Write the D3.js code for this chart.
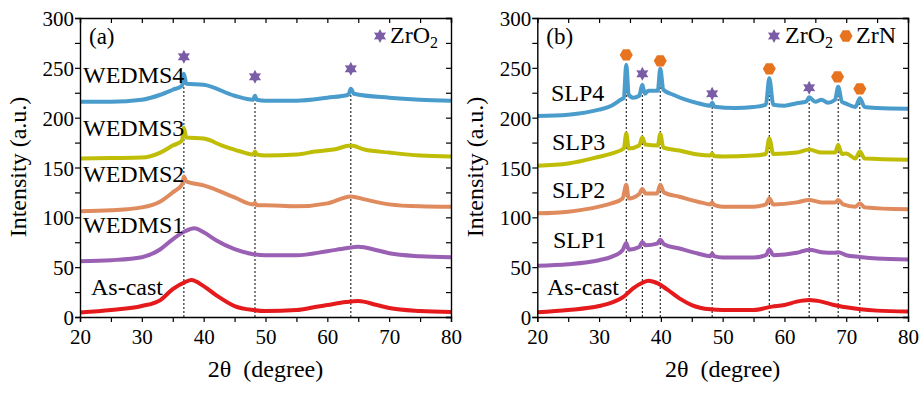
<!DOCTYPE html>
<html>
<head>
<meta charset="utf-8">
<script src="https://cdn.jsdelivr.net/npm/d3@7"></script>
<style>
  body { margin: 0; background: #fff; }
  svg text { font-family: "Liberation Serif", "Times New Roman", serif !important; fill: #000; }
</style>
</head>
<body>
<svg width="921" height="393"></svg>
<script>
// ---- data: [2theta, intensity] ----
var xTicks = [20, 30, 40, 50, 60, 70, 80];
var yTicks = [0, 50, 100, 150, 200, 250, 300];

var asCastA = [[20,4.5],[25,7],[30,11],[33,17],[35,28],[37,35],[38,37],[40,31],[42,22],[45,11],[48,7],[50,6],[55,7],[58,10],[60,12],[63,15],[65,16],[68,12],[70,9],[75,6],[80,5]];
var wedms1 = [[20,56],[25,57],[30,60],[33,68],[35,78],[37,86],[38.5,89],[40,85],[42,77],[45,68],[48,63],[50,62],[55,62],[60,66],[63,69],[65,70.5],[68,67],[70,64],[75,61],[80,60]];
var wedms2 = [[20,106],[25,107],[30,110],[33,116],[35,125],[36.5,133],[36.8,141],[37.2,136],[40,132],[45,120],[48,113],[48.3,114.5],[48.6,112],[50,112],[55,111],[60,114],[63.8,121],[66,118],[70,113],[75,111],[80,110.5]];
var wedms3 = [[20,159],[25,159.5],[30,160],[33,165],[35,172],[36.5,177],[36.8,190],[37.2,180],[40,179],[43,172],[46,166],[48,163],[48.3,166],[48.6,163],[50,162],[55,163],[58,166],[61,168],[63.8,172],[66,168],[70,165],[75,162],[80,161]];
var wedms4 = [[20,216],[25,216],[30,218],[33,223],[35,228],[36.5,232],[36.8,244],[37.2,234],[40,233],[45,222],[48,218],[48.3,222],[48.6,218],[50,217],[55,217],[60,220],[63.4,223],[63.8,229],[64.3,224],[70,220],[75,218],[80,217]];

var asCastB = [[20,4.7],[25,7],[30,11],[32,14.4],[34,20.4],[35.5,28.7],[37,34.4],[38,36.4],[39.5,33.7],[41,27.7],[43,18.7],[45,12],[48,7.7],[50,7],[55,7],[58,10.4],[60,12],[62,15.4],[64,17],[66,15.4],[68,12],[70,9.7],[75,6.4],[80,5.4]];
var slp1 = [[20,51.5],[25,53],[30,57],[32,60.3],[33.8,67],[34.4,74.3],[34.8,67.6],[36.5,70.3],[37,75.3],[37.5,72],[39.4,73.6],[39.9,77.6],[40.5,73],[43,68.7],[46,63.7],[48,61],[48.3,63.7],[48.6,61],[50,59.7],[55,59.7],[57,62],[57.55,67.6],[58.2,62],[62,64.4],[64,67.6],[66,65],[68.2,64.4],[68.7,65],[70,62],[72.2,60.3],[75,58.7],[80,57.7]];
var slp2 = [[20,104],[25,105.7],[30,110.7],[32,114],[33.8,119],[34.4,132.7],[34.8,119],[36.5,123.5],[37,128.5],[37.5,124],[39.4,124],[39.9,132.7],[40.5,125],[43,120.7],[46,115.7],[48,113],[48.3,115],[48.6,112.5],[50,110.7],[55,110.7],[57,113],[57.55,119],[58.2,113],[62,115],[64,117.4],[66,115],[68.2,115],[68.7,117.4],[69.5,113],[71.5,110.7],[72.2,114],[73,110],[80,108]];
var slp3 = [[20,151.8],[25,154],[30,160.8],[32,164],[34,169],[34.4,184],[34.8,169],[36.5,172],[37,180],[37.5,173],[39.5,172],[39.9,183.6],[40.4,170],[43,167],[46,163],[48,162],[48.3,164],[48.6,161.5],[50,161],[55,162],[57,163.6],[57.55,179],[58.2,163.6],[62,165],[64,168],[66,165],[68.2,165],[68.7,172.5],[69.3,163.6],[70,164],[71.5,159],[72.2,166],[73,159],[80,157.9]];
var slp4 = [[20,201.7],[25,203],[30,208],[32,212],[33.5,218],[34,220],[34.4,253],[34.8,223],[35.5,220],[36.5,222],[37,233],[37.4,224],[38,227],[39.5,227],[39.9,249],[40.4,228],[42,223],[44,218],[46,214.5],[48,212],[48.3,215],[48.7,211],[52,209.7],[55,210.7],[57,213],[57.55,239.5],[58.2,213],[60,212],[62,214.5],[63.5,216],[64,220.4],[65,216],[66,218],[67,215],[68.2,218],[68.7,231],[69.3,216],[70,214],[71.5,210.7],[72.2,219.4],[73,210.7],[75,209.7],[80,209]];

var seriesNamesA = ["As-cast", "WEDMS1", "WEDMS2", "WEDMS3", "WEDMS4"];
var seriesNamesB = ["As-cast", "SLP1", "SLP2", "SLP3", "SLP4"];
var seriesColors = ["#e41a1c", "#9a60b4", "#e08b5e", "#bfbd06", "#4a9ccc"];

// peak guide lines (2theta) and marker positions
var peaksA = [36.8, 48.3, 63.8];
var markersA = [[36.8, 261, "ZrO2"], [48.3, 241, "ZrO2"], [63.8, 249, "ZrO2"]];
var peaksB = [34.4, 37.0, 39.9, 48.3, 57.55, 64.0, 68.7, 72.2];
var markersB = [[34.4, 263, "ZrN"], [37.0, 244, "ZrO2"], [39.9, 257, "ZrN"], [48.3, 224, "ZrO2"],
                [57.55, 249, "ZrN"], [64.0, 230, "ZrO2"], [68.6, 241, "ZrN"], [72.2, 229, "ZrN"]];

var starColor = "#7b5ca6", hexColor = "#e8731e";

var svg = d3.select("svg");

function starPath(r) {
  var pts = [];
  for (var i = 0; i < 12; i++) {
    var a = -Math.PI / 2 + i * Math.PI / 6;
    var rr = i % 2 ? r * 0.55 : r;
    pts.push([rr * Math.cos(a), rr * Math.sin(a)]);
  }
  return "M" + pts.join("L") + "Z";
}
function hexPath(r) {
  var pts = [];
  for (var i = 0; i < 6; i++) {
    var a = i * Math.PI / 3;
    pts.push([r * Math.cos(a), r * Math.sin(a)]);
  }
  return "M" + pts.join("L") + "Z";
}
function drawMarker(g, x, y, kind) {
  g.append("path")
    .attr("transform", "translate(" + x + "," + y + ")")
    .attr("d", kind === "ZrN" ? hexPath(6.5) : starPath(7))
    .attr("fill", kind === "ZrN" ? hexColor : starColor);
}
function zrO2Text(g, x, y) {
  var t = g.append("text").attr("x", x).attr("y", y).style("font-size", "24px");
  t.append("tspan").text("ZrO");
  t.append("tspan").style("font-size", "16px").attr("dy", 5).text("2");
}

function drawPanel(cfg) {
  var x = d3.scaleLinear().domain([20, 80]).range([cfg.x0, cfg.x1]);
  var y = d3.scaleLinear().domain([0, 300]).range([317, 18]);
  var g = svg.append("g");

  // dotted guides up to the top curve
  var top = cfg.series[cfg.series.length - 1];
  var topLine = function(px) {
    for (var i = 1; i < top.length; i++) {
      if (top[i][0] >= px) {
        var a = top[i - 1], b = top[i];
        return a[1] + (b[1] - a[1]) * (px - a[0]) / (b[0] - a[0]);
      }
    }
    return top[top.length - 1][1];
  };
  g.selectAll(".guide").data(cfg.peaks).enter().append("line")
    .attr("x1", function(d) { return x(d); }).attr("x2", function(d) { return x(d); })
    .attr("y1", y(0)).attr("y2", function(d) { return y(topLine(d)); })
    .attr("stroke", "#000").attr("stroke-width", 1).attr("stroke-dasharray", "2,2");

  var line = d3.line().x(function(d) { return x(d[0]); }).y(function(d) { return y(d[1]); })
    .curve(d3.curveMonotoneX);
  cfg.series.forEach(function(s, i) {
    g.append("path").attr("d", line(s)).attr("fill", "none")
      .attr("stroke", seriesColors[i]).attr("stroke-width", 4)
      .attr("stroke-linejoin", "round");
  });

  // axes: ticks outward on bottom/left, inward mirrors on top/right
  var minorX = d3.range(20, 80.1, 5), minorY = d3.range(0, 300.1, 25);
  var bx = g.append("g").attr("transform", "translate(0,317)")
    .call(d3.axisBottom(x).tickValues(minorX).tickSize(5).tickFormat(function(d) { return xTicks.indexOf(d) >= 0 ? d : ""; }));
  bx.selectAll(".tick text").attr("y", 27).attr("dy", 0);
  g.append("g").attr("transform", "translate(0,18)")
    .call(d3.axisTop(x).tickValues(minorX).tickSize(-5).tickFormat(""));
  var ly = g.append("g").attr("transform", "translate(" + cfg.x0 + ",0)")
    .call(d3.axisLeft(y).tickValues(minorY).tickSize(5).tickFormat(function(d) { return yTicks.indexOf(d) >= 0 ? d : ""; }));
  ly.selectAll(".tick text").attr("x", -6).attr("dy", "0.36em");
  g.append("g").attr("transform", "translate(" + cfg.x1 + ",0)")
    .call(d3.axisRight(y).tickValues(minorY).tickSize(-5).tickFormat(""));
  g.selectAll(".domain").attr("stroke-width", 1.4);
  g.selectAll(".tick line").attr("stroke-width", 1.2);
  g.selectAll(".tick text").style("font-size", "21px");

  // markers
  cfg.markers.forEach(function(m) { drawMarker(g, x(m[0]), y(m[1]), m[2]); });

  // series labels
  cfg.names.forEach(function(n, i) {
    g.append("text").attr("x", cfg.labelX[i]).attr("y", cfg.labelY[i]).style("font-size", "24px").text(n);
  });
  g.append("text").attr("x", cfg.x0 + 9).attr("y", 44).style("font-size", "23px").text(cfg.tag);

  // axis titles
  g.append("text").attr("x", (cfg.x0 + cfg.x1) / 2).attr("y", 377).attr("text-anchor", "middle")
    .style("font-size", "24px").style("white-space", "pre").text("2\u03b8  (degree)");
  g.append("text").attr("transform", "translate(" + (cfg.x0 - 54) + ",167) rotate(-90)")
    .attr("text-anchor", "middle").style("font-size", "24px").text("Intensity (a.u.)");

  cfg.legend(g);
}

drawPanel({
  x0: 80, x1: 451, tag: "(a)",
  series: [asCastA, wedms1, wedms2, wedms3, wedms4],
  names: seriesNamesA,
  labelX: [91, 83, 83, 83, 83], labelY: [295, 233, 182, 136, 83],
  peaks: peaksA, markers: markersA,
  legend: function(g) { drawMarker(g, 380, 36, "ZrO2"); zrO2Text(g, 390, 43); }
});
drawPanel({
  x0: 537.3, x1: 908, tag: "(b)",
  series: [asCastB, slp1, slp2, slp3, slp4],
  names: seriesNamesB,
  labelX: [547, 553, 552, 552, 551], labelY: [295, 248, 198, 150, 101],
  peaks: peaksB, markers: markersB,
  legend: function(g) {
    drawMarker(g, 774, 36, "ZrO2"); zrO2Text(g, 785, 43);
    drawMarker(g, 846, 36, "ZrN");
    g.append("text").attr("x", 856).attr("y", 43).style("font-size", "24px").text("ZrN");
  }
});
</script>
</body>
</html>
